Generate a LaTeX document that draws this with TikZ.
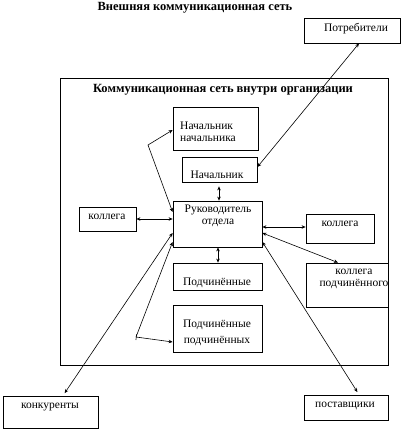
\documentclass[tikz,border=0pt]{standalone}
\usepackage{fontspec}
\setmainfont{Liberation Serif}
\usetikzlibrary{arrows.meta}
\tikzset{
  box/.style={draw=black, line width=0.8pt, inner sep=0pt, rectangle},
  txt/.style={inner sep=0pt, font=\fontsize{11.5}{12}\selectfont, align=center},
  ttl/.style={inner sep=0pt, font=\fontsize{12.5}{14}\selectfont\bfseries},
  con/.style={line width=0.6pt, {Stealth[length=4pt,width=3.5pt]}-{Stealth[length=4pt,width=3.5pt]}},
}
\begin{document}
\begin{tikzpicture}[x=1pt,y=-1pt]
\useasboundingbox (0,0) rectangle (403,429);
% boxes
\node[box, minimum width=328pt, minimum height=287pt] (outer) at (224,221.5) {};
\node[box, minimum width=96pt, minimum height=25pt] (potr) at (352,30.5) {};
\node[box, minimum width=85pt, minimum height=43pt] (nn) at (215.5,128.5) {};
\node[box, minimum width=75pt, minimum height=25pt] (nach) at (219.5,169.5) {};
\node[box, minimum width=89pt, minimum height=46pt] (ruk) at (217.5,224) {};
\node[box, minimum width=57pt, minimum height=24pt] (kl) at (107.5,219) {};
\node[box, minimum width=68pt, minimum height=29pt] (kr) at (340,228.5) {};
\node[box, minimum width=89pt, minimum height=27pt] (pod) at (217.5,276.5) {};
\node[box, minimum width=82pt, minimum height=44pt] (kp) at (347,285) {};
\node[box, minimum width=89pt, minimum height=47pt] (pp) at (217.5,328.5) {};
\node[box, minimum width=95pt, minimum height=32pt] (konk) at (50.5,412) {};
\node[box, minimum width=84pt, minimum height=25pt] (post) at (346,407.5) {};
% titles
\node[ttl] (t1) at (195,8) {Внешняя коммуникационная сеть};
\node[ttl] (t2) at (223,90) {Коммуникационная сеть внутри организации};
% texts
\node[txt] (tpotr) at (356,29) {Потребители};
\node[txt, align=left, anchor=west] (tnn) at (180,132) {Начальник\\начальника};
\node[txt] (tnach) at (217,175) {Начальник};
\node[txt] (truk) at (218,216) {Руководитель\\отдела};
\node[txt] (tkl) at (107,217) {коллега};
\node[txt] (tkr) at (340,224) {коллега};
\node[txt] (tpod) at (217,283) {Подчинённые};
\node[txt] (tkp) at (354,279) {коллега\\подчинённого};
\node[txt, font=\fontsize{11.5}{16}\selectfont] (tpp) at (217,333) {Подчинённые\\подчинённых};
\node[txt] (tkonk) at (50,407) {конкуренты};
\node[txt] (tpost) at (345,406) {поставщики};
% bend points
\coordinate (b1) at (148,145);
\coordinate (b2) at (136,337);
% connectors
\draw[con] (potr.south -| 359,0) -- (nach.east |- 0,167);
\draw[con, shorten <=4pt] (nach.south -| 219,0) -- (ruk.north -| 219,0);
\draw[con] (kl.east |- 0,219) -- (ruk.west |- 0,219);
\draw[con] (ruk.east |- 0,227) -- (kr.west |- 0,227);
\draw[con] (ruk.south -| 218,0) -- (pod.north -| 218,0);
\draw[con] (ruk.east |- 0,233) -- (kp.north -| 338,0);
\draw[con] (nn.west |- 0,130) -- (b1) -- (ruk.west |- 0,212);
\draw[con, shorten >=3pt] (ruk.west |- 0,233) -- (konk.north -| 63,0);
\draw[con, shorten >=3pt] (ruk.east |- 0,242) -- (post.north -| 359,0);
\draw[line width=0.6pt, {Stealth[length=4pt,width=3.5pt]}-] (ruk.west |- 0,242) -- (b2);
\draw[line width=0.6pt, {Bar[width=6pt]}-{Stealth[length=4pt,width=3.5pt]}] (b2) -- (pp.west |- 0,342);
\end{tikzpicture}
\end{document}
